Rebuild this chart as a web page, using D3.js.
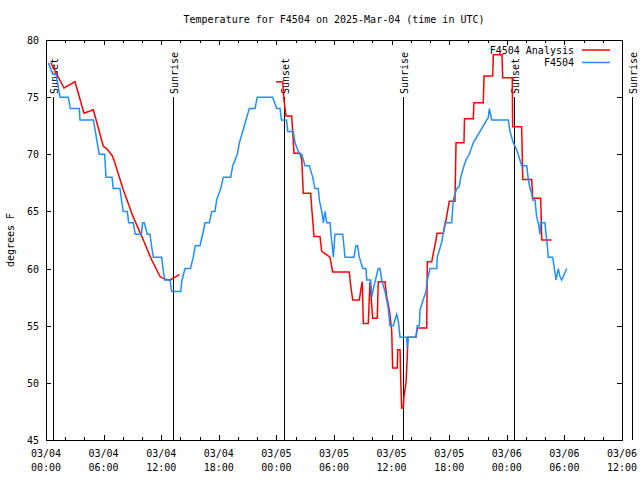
<!DOCTYPE html>
<html><head><meta charset="utf-8">
<script src="https://cdn.jsdelivr.net/npm/d3@7"></script>
<style>
body{margin:0;background:#fff;}
svg{display:block;background:#fff;}
text{font-family:"DejaVu Sans Mono","Liberation Mono",monospace;font-size:10px;fill:#000;}
</style></head><body>
<svg id="chart" width="640" height="480"></svg>
<script>
const title = "Temperature for F4504 on 2025-Mar-04 (time in UTC)";
const yLabel = "degrees F";
const seriesNames = ["F4504 Analysis", "F4504"];
const seriesColors = ["#ff0000", "#1e8fff"];
const xTickHours = [0, 6, 12, 18, 24, 30, 36, 42, 48, 54, 60];
const xTickLabels = [["03/04","00:00"],["03/04","06:00"],["03/04","12:00"],["03/04","18:00"],
  ["03/05","00:00"],["03/05","06:00"],["03/05","12:00"],["03/05","18:00"],
  ["03/06","00:00"],["03/06","06:00"],["03/06","12:00"]];
const xMinorHours = [2,4,8,10,14,16,20,22,26,28,32,34,38,40,44,46,50,52,56,58];
const yTicks = [45, 50, 55, 60, 65, 70, 75, 80];
const sunHours = [0.75, 13.26, 24.74, 37.22, 48.78, 61.05];
const sunLabels = ["Sunset", "Sunrise", "Sunset", "Sunrise", "Sunset", "Sunrise"];

// Observations (hours since 03/04 00:00 UTC, deg F)
const obsHours = [0.24,0.70,1.04,1.25,1.46,2.32,2.53,3.47,3.54,4.93,5.14,5.34,5.55,6.11,6.25,6.88,7.01,7.71,7.86,8.05,
 8.47,8.61,9.09,9.30,9.93,10.07,10.24,10.55,10.83,10.99,11.18,12.05,12.19,12.36,12.92,13.09,14.03,14.17,14.48,15.05,
 15.34,15.55,16.04,16.32,16.56,17.01,17.26,17.60,17.78,18.20,18.47,19.24,19.45,19.93,20.14,20.49,20.83,21.18,21.77,22.01,
 23.61,24.03,24.38,24.53,25.05,25.18,25.76,25.94,26.39,26.64,26.98,27.43,27.78,28.02,28.36,28.47,28.72,28.89,29.06,29.24,
 29.58,29.69,29.93,30.10,30.91,31.15,32.08,32.29,32.45,32.64,33.00,33.33,33.41,33.82,33.93,34.17,34.61,34.79,34.97,35.31,
 35.66,35.83,36.18,36.53,36.70,36.88,37.57,37.64,37.74,38.54,38.68,38.89,38.96,39.30,39.58,39.72,40.00,40.70,40.76,41.22,
 41.56,42.26,42.43,42.78,43.05,43.20,43.54,43.75,44.09,44.51,45.21,45.91,46.07,46.18,46.43,48.16,48.33,48.68,49.03,49.30,
 49.55,50.07,50.24,50.42,50.59,50.70,50.94,51.11,51.28,51.46,51.53,51.98,52.08,52.22,52.32,52.78,52.92,53.13,53.36,53.54,
 53.72,54.24];
const obsTemps = [78,77,77,76,75,75,74,74,73,73,72,71,70,70,68,68,67,67,66,65,
 65,64,64,63,63,64,64,63,63,62,61,61,60,59,59,58,58,59,60,60,
 61,62,62,63,64,64,65,65,66,67,68,68,69,70,71,72,73,74,74,75,
 75,74,74,73,73,72,72,71,70,70,69,69,68,67,67,66,65,64,65,64,
 64,63,61,63,63,61,61,62,62,61,60,60,59,59,57.5,58.5,60,60,59,58,
 56.5,55,55,56,55.4,54,54,53,54,54,55,55,56.4,57.3,58,59,60,60,61,62.3,
 64,64,66,67,67.2,68,69,69.5,70,71,72,73,73.2,74,73,73,72,71,70.4,69.7,
 69,69,67.8,67,66.6,66,66,64.5,64,63,64,64,63,62,61,61,60.2,59,60,59.3,
 59,60];

// Analysis (hours since 03/04 00:00 UTC, deg F); null marks a gap
const anaHours = [0.50,1.88,3.02,3.96,4.93,5.97,6.32,6.88,7.08,8.05,9.09,10.14,11.01,11.88,12.40,12.92,13.26,13.89,
 null,
 23.96,24.66,24.79,25.00,25.59,25.70,25.83,26.46,26.64,26.80,27.57,27.68,27.92,28.54,28.72,29.58,29.86,31.59,31.74,31.95,
 32.64,32.78,32.95,33.05,33.57,33.75,34.03,34.51,34.61,35.31,35.49,35.76,36.01,36.11,36.59,36.64,36.88,36.95,37.05,37.22,
 37.29,37.50,37.64,37.68,38.54,38.68,39.66,39.72,40.18,40.34,40.63,40.73,41.39,41.67,42.01,42.60,42.71,43.54,43.59,44.51,
 44.58,45.55,45.63,46.53,46.59,47.50,47.57,48.57,48.61,49.55,49.66,50.59,50.70,51.53,51.64,52.66];
const anaTemps = [78,75.8,76.35,73.6,73.9,70.7,70.5,69.9,69.5,66.9,64.5,62.5,60.75,59.3,59.06,59,59.15,59.5,
 null,
 76.35,76.35,74.75,73.35,73.35,72,70.1,70.1,69.5,66.6,66.6,65.3,62.8,62.8,61.5,61.0,59.7,59.7,58.5,57.25,
 57.25,58.1,58.85,55.2,55.2,58.85,55.65,55.65,58.85,58.85,57.55,56.4,54.6,51.3,51.3,52.9,52.9,50.25,47.8,47.8,
 48.8,50,52.4,54,54,54.8,54.8,60.6,60.6,61.3,62.5,63.1,63.1,64.25,65.9,65.9,71,71,73.1,73.1,
 74.5,74.5,76.85,76.85,78.7,78.7,76.7,76.7,72.4,72.4,67.8,67.8,66.15,66.15,62.5,62.5];

const svg = d3.select("#chart");
const L = 46, R = 622, T = 40, B = 440;
const x = d3.scaleLinear().domain([0, 60]).range([L, R]);
const y = d3.scaleLinear().domain([45, 80]).range([B, T]);

// title
svg.append("text").attr("x", 334).attr("y", 23).attr("text-anchor", "middle").text(title);
// y label
svg.append("text").attr("transform", "translate(14,240) rotate(-90)").attr("text-anchor", "middle").text(yLabel);

// axes
const gB = svg.append("g").attr("transform", `translate(0,${B})`)
  .call(d3.axisBottom(x).tickValues(xTickHours).tickSizeInner(-5).tickSizeOuter(0).tickPadding(4).tickFormat(""));
const gBm = svg.append("g").attr("transform", `translate(0,${B})`)
  .call(d3.axisBottom(x).tickValues(xMinorHours).tickSizeInner(-3).tickSizeOuter(0).tickFormat(""));
const gT = svg.append("g").attr("transform", `translate(0,${T})`)
  .call(d3.axisTop(x).tickValues(xTickHours).tickSizeInner(-5).tickSizeOuter(0).tickFormat(""));
const gTm = svg.append("g").attr("transform", `translate(0,${T})`)
  .call(d3.axisTop(x).tickValues(xMinorHours).tickSizeInner(-3).tickSizeOuter(0).tickFormat(""));
const gL = svg.append("g").attr("transform", `translate(${L},0)`)
  .call(d3.axisLeft(y).tickValues(yTicks).tickSizeInner(-5).tickSizeOuter(0).tickPadding(7));
const gR = svg.append("g").attr("transform", `translate(${R},0)`)
  .call(d3.axisRight(y).tickValues(yTicks).tickSizeInner(-5).tickSizeOuter(0).tickFormat(""));
[gB, gBm, gT, gTm, gL, gR].forEach(g => {
  g.select(".domain").remove();
  g.selectAll("line").attr("stroke", "#000").attr("shape-rendering", "crispEdges");
  g.selectAll("text").attr("font-family", null).attr("font-size", null).style("fill", "#000");
});
gL.selectAll("text").attr("dy", "0.35em");

// x tick labels (two lines)
const lab = svg.append("g");
xTickHours.forEach((h, i) => {
  const t = lab.append("text").attr("text-anchor", "middle");
  t.append("tspan").attr("x", x(h)).attr("y", 457).text(xTickLabels[i][0]);
  t.append("tspan").attr("x", x(h)).attr("y", 471).text(xTickLabels[i][1]);
});

// border
svg.append("rect").attr("x", L).attr("y", T).attr("width", R - L).attr("height", B - T)
  .attr("fill", "none").attr("stroke", "#000").attr("shape-rendering", "crispEdges");

// sunrise / sunset markers
sunHours.forEach((h, i) => {
  const xx = Math.round(x(h)) + 0.5;
  svg.append("line").attr("x1", xx).attr("x2", xx).attr("y1", 97).attr("y2", B)
    .attr("stroke", "#000").attr("stroke-width", 1).attr("shape-rendering", "crispEdges");
  svg.append("text").attr("transform", `translate(${xx + 4},94) rotate(-90)`).text(sunLabels[i]);
});

// series
const obs = obsHours.map((h, i) => ({h, v: obsTemps[i]}));
const ana = anaHours.map((h, i) => ({h, v: anaTemps[i]}));
const line = d3.line().defined(d => d.h != null && d.v != null).x(d => x(d.h)).y(d => y(d.v));
svg.append("path").datum(ana).attr("d", line).attr("fill", "none").attr("stroke", seriesColors[0]).attr("stroke-width", 1.5);
svg.append("path").datum(obs).attr("d", line).attr("fill", "none").attr("stroke", seriesColors[1]).attr("stroke-width", 1.5);

// legend
seriesNames.forEach((n, i) => {
  const yy = 50 + i * 12.5;
  svg.append("text").attr("x", 574).attr("y", yy + 3.5).attr("text-anchor", "end").text(n);
  svg.append("line").attr("x1", 582).attr("x2", 610).attr("y1", yy).attr("y2", yy)
    .attr("stroke", seriesColors[i]).attr("stroke-width", 1.5);
});
</script></body></html>
